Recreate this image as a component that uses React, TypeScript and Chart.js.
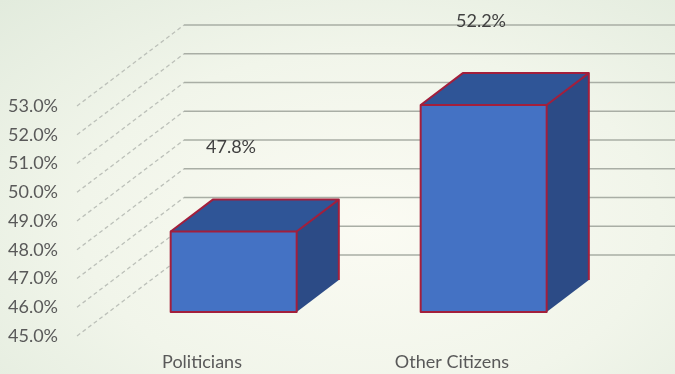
import React, { useEffect, useRef } from "react";
import { Chart, registerables } from "chart.js";

Chart.register(...registerables);

const categories = ["Politicians", "Other Citizens"];
const values = [47.8, 52.2];
const valueLabels = ["47.8%", "52.2%"];
const yMin = 45;
const yMax = 53;
const yStep = 1;

const FONT = "Lato, 'Liberation Sans', sans-serif";
const DEPTH_X = 107;
const DEPTH_Y = -81;
const BAR_T0 = 0.296;
const BAR_T1 = 0.69;

const threeD = {
  id: "threeD",
  beforeDatasetsDraw(chart: any) {
    const { ctx, chartArea, scales } = chart;
    const y = scales.y;
    ctx.save();
    for (let v = yMin; v <= yMax + 1e-9; v += yStep) {
      const py = y.getPixelForValue(v);
      ctx.strokeStyle = "#a9aea5";
      ctx.lineWidth = 1.6;
      ctx.setLineDash([]);
      ctx.beginPath();
      ctx.moveTo(chartArea.left + DEPTH_X, py + DEPTH_Y);
      ctx.lineTo(chartArea.right + DEPTH_X, py + DEPTH_Y);
      ctx.stroke();
      ctx.strokeStyle = "#bcc0b9";
      ctx.lineWidth = 1.3;
      ctx.setLineDash([4, 3]);
      ctx.beginPath();
      ctx.moveTo(chartArea.left, py);
      ctx.lineTo(chartArea.left + DEPTH_X, py + DEPTH_Y);
      ctx.stroke();
    }
    ctx.setLineDash([]);
    const meta = chart.getDatasetMeta(0);
    meta.data.forEach((el: any, i: number) => {
      const half = el.width / 2;
      const top = y.getPixelForValue(values[i]);
      const base = y.getPixelForValue(yMin);
      const fx = DEPTH_X * BAR_T0, fy = DEPTH_Y * BAR_T0;
      const bx = DEPTH_X * BAR_T1, by = DEPTH_Y * BAR_T1;
      const L = el.x - half + fx, R = el.x + half + fx;
      const T = top + fy, B = base + fy;
      const ddx = bx - fx, ddy = by - fy;
      ctx.fillStyle = "#2f5597";
      ctx.beginPath();
      ctx.moveTo(L, T);
      ctx.lineTo(L + ddx, T + ddy);
      ctx.lineTo(R + ddx, T + ddy);
      ctx.lineTo(R, T);
      ctx.closePath();
      ctx.fill();
      ctx.fillStyle = "#2c4b86";
      ctx.beginPath();
      ctx.moveTo(R, T);
      ctx.lineTo(R + ddx, T + ddy);
      ctx.lineTo(R + ddx, B + ddy);
      ctx.lineTo(R, B);
      ctx.closePath();
      ctx.fill();
      ctx.fillStyle = "#4472c4";
      ctx.fillRect(L, T, R - L, B - T);
      ctx.strokeStyle = "#a21f3c";
      ctx.lineWidth = 2;
      ctx.lineJoin = "round";
      ctx.strokeRect(L, T, R - L, B - T);
      ctx.beginPath();
      ctx.moveTo(L, T);
      ctx.lineTo(L + ddx, T + ddy);
      ctx.lineTo(R + ddx, T + ddy);
      ctx.lineTo(R + ddx, B + ddy);
      ctx.moveTo(R, T);
      ctx.lineTo(R + ddx, T + ddy);
      ctx.stroke();
      ctx.fillStyle = "#404040";
      ctx.font = `18px ${FONT}`;
      ctx.textAlign = "center";
      ctx.textBaseline = "middle";
      ctx.fillText(valueLabels[i], el.x + 29, top - 108);
    });
    ctx.restore();
  },
};

export default function App() {
  const ref = useRef<HTMLCanvasElement>(null);
  useEffect(() => {
    document.body.style.margin = "0";
    const chart = new Chart(ref.current!, {
      type: "bar",
      data: {
        labels: categories,
        datasets: [
          {
            data: values,
            base: yMin,
            backgroundColor: "rgba(0,0,0,0)",
            borderWidth: 0,
            categoryPercentage: 1,
            barPercentage: 0.504,
          },
        ],
      },
      options: {
        animation: false,
        responsive: false,
        layout: { padding: { left: 0, right: 98, top: 106, bottom: 0 } },
        plugins: { legend: { display: false }, tooltip: { enabled: false } },
        scales: {
          x: {
            grid: { display: false, drawTicks: false },
            border: { display: false },
            ticks: { color: "#595959", font: { size: 18, family: FONT }, padding: 15 },
            afterFit: (s: any) => { s.height = 38; },
          },
          y: {
            min: yMin,
            max: yMax,
            grid: { display: false, drawTicks: false },
            border: { display: false },
            ticks: {
              stepSize: yStep,
              color: "#595959",
              font: { size: 18, family: FONT },
              padding: 19,
              callback: (v: any) => Number(v).toFixed(1) + "%",
            },
            afterFit: (s: any) => { s.width = 77; },
          },
        },
      },
      plugins: [threeD],
    });
    return () => chart.destroy();
  }, []);
  return (
    <div
      style={{
        position: "absolute",
        left: 0,
        top: 0,
        width: 675,
        height: 374,
        background:
          "radial-gradient(ellipse at 55% 60%, #fbfbf3 0%, #f1f5ea 55%, #e2ebdd 100%)",
      }}
    >
      <canvas ref={ref} width={675} height={374} style={{ display: "block" }} />
    </div>
  );
}
